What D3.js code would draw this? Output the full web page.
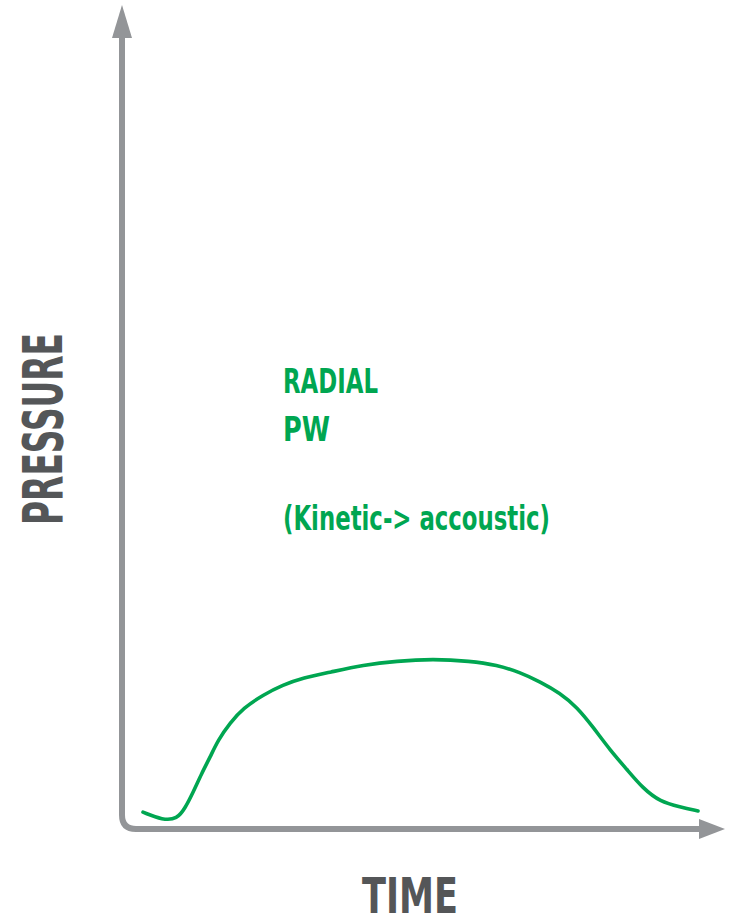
<!DOCTYPE html>
<html>
<head>
<meta charset="utf-8">
<script src="https://cdn.jsdelivr.net/npm/d3@7"></script>
<style>
  html, body { margin: 0; padding: 0; background: #ffffff; }
  svg { display: block; }
  text { font-family: "Liberation Sans Narrow", "DejaVu Sans Condensed", "Arial Narrow", sans-serif; font-weight: bold; }
</style>
</head>
<body>
<div id="chart"></div>
<script>
// ---- data (time in arbitrary units 0-100, pressure in arbitrary units) ----
const timeValues = [3.5, 6.8, 9.2, 10.5, 11.8, 13.3, 14.7, 16.0, 18.0, 20.2, 23.5, 26.8, 30.2, 34.7, 40.2, 45.8, 51.8, 58.0, 62.5, 66.3, 69.7, 73.0, 75.8, 78.5, 81.3, 84.2, 86.8, 89.7, 93.0, 96.0];
const pressureValues = [2.1, 1.1, 1.25, 2.6, 4.5, 7.0, 9.0, 11.1, 13.25, 15.1, 16.75, 18.0, 18.9, 19.6, 20.5, 21.0, 21.25, 21.0, 20.5, 19.6, 18.4, 17.0, 15.25, 12.75, 9.9, 7.4, 5.1, 3.4, 2.75, 2.25];
const xAxisLabel = "TIME";
const yAxisLabel = "PRESSURE";
const annotationLines = ["RADIAL", "PW", "(Kinetic-> accoustic)"];

// ---- layout ----
const W = 730, H = 924;
const svg = d3.select("#chart").append("svg").attr("width", W).attr("height", H);

const x = d3.scaleLinear().domain([0, 100]).range([122, 722]);
const y = d3.scaleLinear().domain([0, 100]).range([829, 29]);

const axisColor = "#939598";
const green = "#00a651";
const labelColor = "#545658";

// axes: vertical + rounded corner + horizontal
const x0 = x(0), y0 = y(0);
const r = 14;
const topY = 30, rightX = 702;
svg.append("path")
  .attr("d", `M${x0},${topY} L${x0},${y0 - r} Q${x0},${y0} ${x0 + r},${y0} L${rightX},${y0}`)
  .attr("fill", "none")
  .attr("stroke", axisColor)
  .attr("stroke-width", 6);

// arrowheads
svg.append("path")
  .attr("d", `M${x0},5 L${x0 + 10},38 L${x0 - 10},38 Z`)
  .attr("fill", axisColor);
svg.append("path")
  .attr("d", `M725,${y0} L699,${y0 - 10} L699,${y0 + 10} Z`)
  .attr("fill", axisColor);

// curve
const pts = timeValues.map((t, i) => [t, pressureValues[i]]);
const line = d3.line()
  .x(d => x(d[0]))
  .y(d => y(d[1]))
  .curve(d3.curveBasis);
svg.append("path")
  .datum(pts)
  .attr("d", line)
  .attr("fill", "none")
  .attr("stroke", green)
  .attr("stroke-width", 3.6)
  .attr("stroke-linecap", "round");

// annotation
const ann = [
  { t: annotationLines[0], y: 393, len: 95 },
  { t: annotationLines[1], y: 441, len: 47 },
  { t: annotationLines[2], y: 530, len: 267 }
];
svg.selectAll("text.ann").data(ann).enter().append("text")
  .attr("class", "ann")
  .attr("x", 283)
  .attr("y", d => d.y)
  .attr("font-size", 34)
  .attr("fill", green)
  .attr("textLength", d => d.len)
  .attr("lengthAdjust", "spacingAndGlyphs")
  .text(d => d.t);

// axis labels
svg.append("text")
  .attr("transform", "translate(62,429) rotate(-90)")
  .attr("text-anchor", "middle")
  .attr("font-size", 55)
  .attr("fill", labelColor)
  .attr("textLength", 192)
  .attr("lengthAdjust", "spacingAndGlyphs")
  .text(yAxisLabel);

svg.append("text")
  .attr("x", 410)
  .attr("y", 913)
  .attr("text-anchor", "middle")
  .attr("font-size", 50)
  .attr("fill", labelColor)
  .attr("textLength", 96)
  .attr("lengthAdjust", "spacingAndGlyphs")
  .text(xAxisLabel);
</script>
</body>
</html>
